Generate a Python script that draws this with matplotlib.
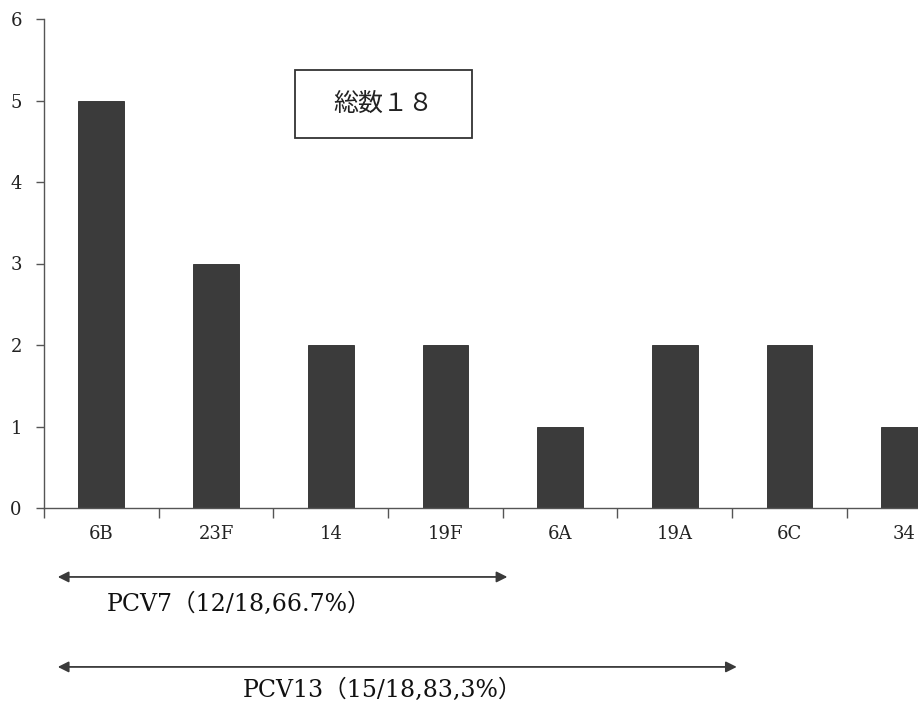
import matplotlib
matplotlib.use("Agg")
import matplotlib.pyplot as plt
import matplotlib.transforms as mtransforms
from matplotlib.patches import Rectangle
import numpy as np

# Serotype counts
serotypes = ["6B", "23F", "14", "19F", "6A", "19A", "6C", "34"]
counts = [5, 3, 2, 2, 1, 2, 2, 1]
total_label = "総数１８"

# Vaccine coverage spans (first N serotypes covered)
pcv7_n = 4
pcv13_n = 6
pcv7_label = "PCV7（12/18,66.7%）"
pcv13_label = "PCV13（15/18,83,3%）"

serif = ["DejaVu Serif", "Noto Sans CJK JP"]
cjk = ["Noto Sans CJK JP", "DejaVu Sans"]

fig = plt.figure(figsize=(9.18, 7.02), dpi=100)
ax = fig.add_axes([44 / 918, 194 / 702, 1 - 44 / 918, 489 / 702])

x = np.arange(len(serotypes))
ax.bar(x, counts, width=0.4, color="#3b3b3b", edgecolor="#2a2a2a", linewidth=0.6, zorder=2)

ax.set_xlim(-0.5, 7.12)
ax.set_ylim(0, 6)

for s in ["top", "right"]:
    ax.spines[s].set_visible(False)
for s in ["left", "bottom"]:
    ax.spines[s].set_color("#555555")
    ax.spines[s].set_linewidth(1.0)

# y axis
ax.set_yticks(range(0, 7))
ax.tick_params(axis="y", direction="out", length=6, width=1, color="#555555",
               pad=10, labelsize=13, labelcolor="#222222")
for lab in ax.get_yticklabels():
    lab.set_family(serif)

# x axis: ticks at category boundaries, labels centred under bars
ax.set_xticks(np.arange(len(serotypes)) - 0.5)
ax.set_xticklabels([])
ax.set_xticks(x, minor=True)
ax.set_xticklabels(serotypes, minor=True)
ax.tick_params(axis="x", which="major", direction="out", length=7, width=1, color="#555555")
ax.tick_params(axis="x", which="minor", length=0, pad=12, labelsize=13, labelcolor="#222222")
for lab in ax.get_xticklabels(minor=True):
    lab.set_family(serif)

trans = mtransforms.blended_transform_factory(ax.transData, ax.transAxes)

# Total count box
box_x0, box_x1 = 1.688, 3.231
box_y0, box_y1 = 0.757, 0.896
ax.add_patch(Rectangle((box_x0, box_y0), box_x1 - box_x0, box_y1 - box_y0,
                       transform=trans, facecolor="white", edgecolor="#333333",
                       linewidth=1.3, zorder=3, clip_on=False))
ax.text((box_x0 + box_x1) / 2, (box_y0 + box_y1) / 2, total_label, transform=trans,
        ha="center", va="center", fontsize=18, family=cjk, color="#222222", zorder=4)

# Coverage arrows
arrow_start = -0.38
spans = [(pcv7_n, pcv7_label, -0.141, -0.198, 107),
         (pcv13_n, pcv13_label, -0.325, -0.372, 243)]
for n, label, ya, yt, xt_px in spans:
    ax.annotate("", xy=(n - 0.46, ya), xytext=(arrow_start, ya),
                xycoords=trans, textcoords=trans, annotation_clip=False,
                arrowprops=dict(arrowstyle="<|-|>", color="#3a3a3a", lw=1.3,
                                mutation_scale=16, shrinkA=0, shrinkB=0))
    ax.text((xt_px - 44) / 114.7 - 0.5, yt, label, transform=trans,
            ha="left", va="center", fontsize=17, family=serif, color="#111111",
            clip_on=False)

fig.savefig("out.png", dpi=100)
